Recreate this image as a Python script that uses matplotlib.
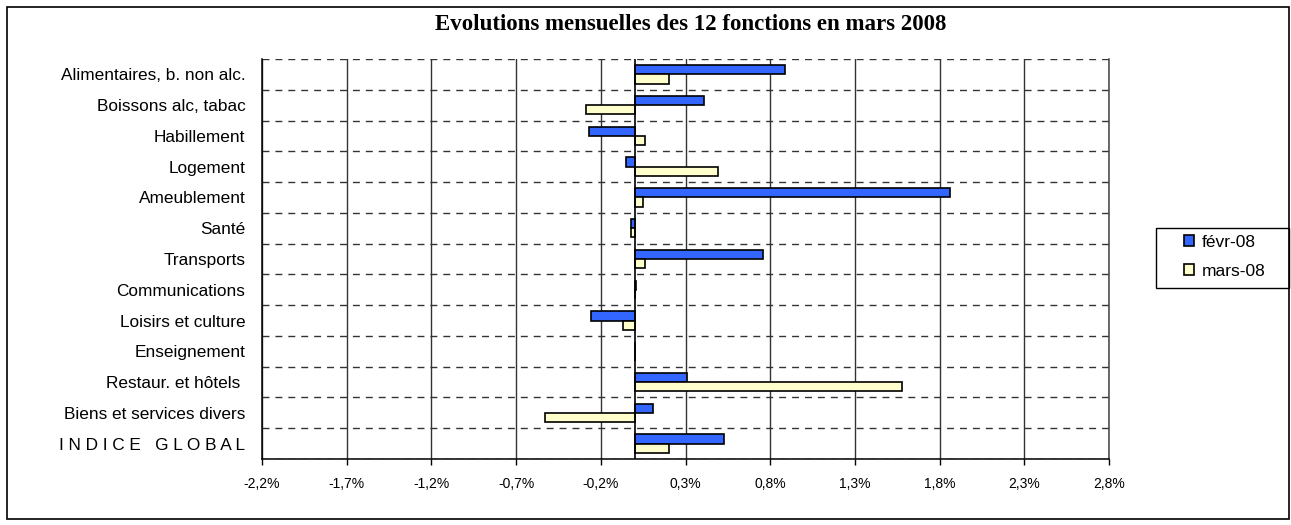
import matplotlib
matplotlib.use("Agg")
import matplotlib.pyplot as plt
import matplotlib.patches as mpatches
import numpy as np

categories = [
    "Alimentaires, b. non alc.",
    "Boissons alc, tabac",
    "Habillement",
    "Logement",
    "Ameublement",
    "Santé",
    "Transports",
    "Communications",
    "Loisirs et culture",
    "Enseignement",
    "Restaur. et hôtels ",
    "Biens et services divers",
    "I N D I C E   G L O B A L",
]
fevr_08 = [0.89, 0.41, -0.27, -0.05, 1.86, -0.02, 0.76, 0.01, -0.26, 0.0, 0.31, 0.11, 0.53]
mars_08 = [0.20, -0.29, 0.06, 0.49, 0.05, -0.02, 0.06, 0.0, -0.07, 0.0, 1.58, -0.53, 0.20]
series_labels = ["févr-08", "mars-08"]
xticks = [-2.2, -1.7, -1.2, -0.7, -0.2, 0.3, 0.8, 1.3, 1.8, 2.3, 2.8]
title = "Evolutions mensuelles des 12 fonctions en mars 2008"

W, H = 1291, 525
fig = plt.figure(figsize=(W / 100, H / 100), dpi=100)
fig.patch.set_facecolor("white")

# outer chart border
fig.patches.append(mpatches.Rectangle((7 / W, 6 / H), (1289 - 7) / W, (519 - 7) / H,
                                      transform=fig.transFigure, fill=False,
                                      edgecolor="black", lw=1.2))

ax = fig.add_axes([262 / W, (H - 459) / H, (1109 - 262) / W, 400 / H])

y = np.arange(len(categories))
h = 0.30
ax.barh(y - h / 2, fevr_08, height=h, color="#3366FF", edgecolor="black", lw=1.2,
        label=series_labels[0], zorder=3)
ax.barh(y + h / 2, mars_08, height=h, color="#FFFFCC", edgecolor="black", lw=1.2,
        label=series_labels[1], zorder=3)

ax.set_xlim(xticks[0], xticks[-1])
ax.set_ylim(len(categories) - 0.5, -0.5)

ax.set_xticks(xticks)
ax.set_xticklabels([f"{v:.1f}%".replace(".", ",") for v in xticks],
                   fontfamily="Liberation Sans", fontsize=10)
ax.tick_params(axis="x", direction="out", length=4, width=1, pad=9, color="black")

ax.set_yticks(y)
ax.set_yticklabels(categories, fontfamily="Liberation Sans", fontsize=12.4)
ax.tick_params(axis="y", length=0, pad=12)
ax.set_yticks(np.arange(-0.5, len(categories), 1), minor=True)
ax.tick_params(axis="y", which="minor", length=0)

ax.grid(True, axis="x", which="major", color="#333333", lw=1, ls="-", zorder=1)
ax.grid(True, axis="y", which="minor", color="#333333", lw=1, ls=(0, (5, 4.3)), zorder=1)
ax.axvline(0, color="black", lw=1.2, zorder=4)

ax.spines["top"].set_visible(False)
ax.spines["right"].set_color("#444444")
ax.spines["left"].set_color("black")
ax.spines["bottom"].set_color("black")
for s in ["left", "right", "bottom"]:
    ax.spines[s].set_linewidth(1.1)

fig.text(691 / W, 1 - 25 / H, title, ha="center", va="center",
         fontfamily="Liberation Serif", fontweight="bold", fontsize=16.5)

# legend frame drawn by hand, legend content placed inside it
fig.patches.append(mpatches.Rectangle((1155.7 / W, (H - 287.7) / H), (1289 - 1155.7) / W, 59.7 / H,
                                      transform=fig.transFigure, fill=False,
                                      edgecolor="black", lw=1.0))
leg = fig.legend(loc="center left",
                 bbox_to_anchor=(1184 / W, (H - 257) / H),
                 frameon=False,
                 prop={"family": "Liberation Sans", "size": 12.5},
                 handlelength=0.6, handleheight=0.6, handletextpad=0.4,
                 labelspacing=0.8, borderpad=0, borderaxespad=0)

fig.savefig("out.png", dpi=100, facecolor="white")
